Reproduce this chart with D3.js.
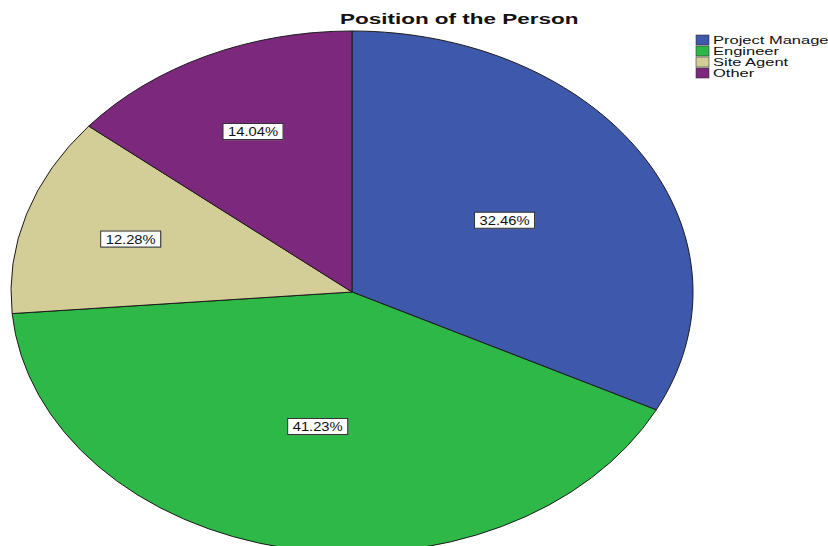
<!DOCTYPE html>
<html><head><meta charset="utf-8">
<script src="https://cdn.jsdelivr.net/npm/d3@7"></script>
<style>body{margin:0;background:#fff;overflow:hidden}</style>
</head><body><svg id="c" width="828" height="546"></svg>
<script>
const categories = ["Project Manager", "Engineer", "Site Agent", "Other"];
const percentages = [32.46, 41.23, 12.28, 14.04];
const colors = ["#3e58ac", "#2eb848", "#d3ce97", "#7c287d"];
const chartTitle = "Position of the Person";

const svg = d3.select("#c");
const cx = 352, cy = 292, rx = 341, ry = 261;
const arcs = d3.pie().sort(null).value(d => d)(percentages);
const arc = d3.arc().innerRadius(0).outerRadius(rx);

const g = svg.append("g").attr("transform", `translate(${cx},${cy}) scale(1,${ry / rx})`);
g.selectAll("path").data(arcs).join("path")
  .attr("d", arc)
  .attr("fill", (d, i) => colors[i])
  .attr("stroke", "#1c1c1c")
  .attr("stroke-width", 1)
  .attr("vector-effect", "non-scaling-stroke");

// labels
const fmt = v => v.toFixed(2) + "%";
const lab = svg.append("g");
arcs.forEach((d, i) => {
  const mid = (d.startAngle + d.endAngle) / 2;
  const f = (d.value / 100) >= 0.25 ? 0.525 : 0.68;
  const x = cx + rx * f * Math.sin(mid);
  const y = cy - ry * f * Math.cos(mid);
  const lg = lab.append("g").attr("transform", `translate(${x},${y})`);
  lg.append("rect").attr("x", -29).attr("y", -7).attr("width", 60).attr("height", 16)
    .attr("fill", "#888").attr("opacity", 0.5);
  lg.append("rect").attr("x", -30).attr("y", -8).attr("width", 60).attr("height", 16)
    .attr("fill", "#fff").attr("stroke", "#333").attr("stroke-width", 1);
  lg.append("text").attr("x", 0).attr("y", 4.5).attr("text-anchor", "middle")
    .attr("font-family", "Arial, 'Liberation Sans', sans-serif").attr("font-size", 12)
    .attr("fill", "#111")
    .attr("textLength", 50).attr("lengthAdjust", "spacingAndGlyphs")
    .text(fmt(percentages[i]));
});

// title
svg.append("text")
  .attr("transform", "translate(340,24) scale(1.45,1)")
  .attr("font-family", "Arial, 'Liberation Sans', sans-serif")
  .attr("font-weight", "bold").attr("font-size", 15.5).attr("fill", "#111")
  .text(chartTitle);

// legend
const leg = svg.append("g");
categories.forEach((c, i) => {
  leg.append("rect").attr("x", 696).attr("y", 35 + i * 11).attr("width", 13).attr("height", 10)
    .attr("fill", colors[i]).attr("stroke", "#333").attr("stroke-width", 0.6);
  leg.append("text")
    .attr("transform", `translate(713,${44 + i * 11}) scale(1.5,1)`)
    .attr("font-family", "Arial, 'Liberation Sans', sans-serif").attr("font-size", 11)
    .attr("fill", "#111").text(c);
});
</script></body></html>
